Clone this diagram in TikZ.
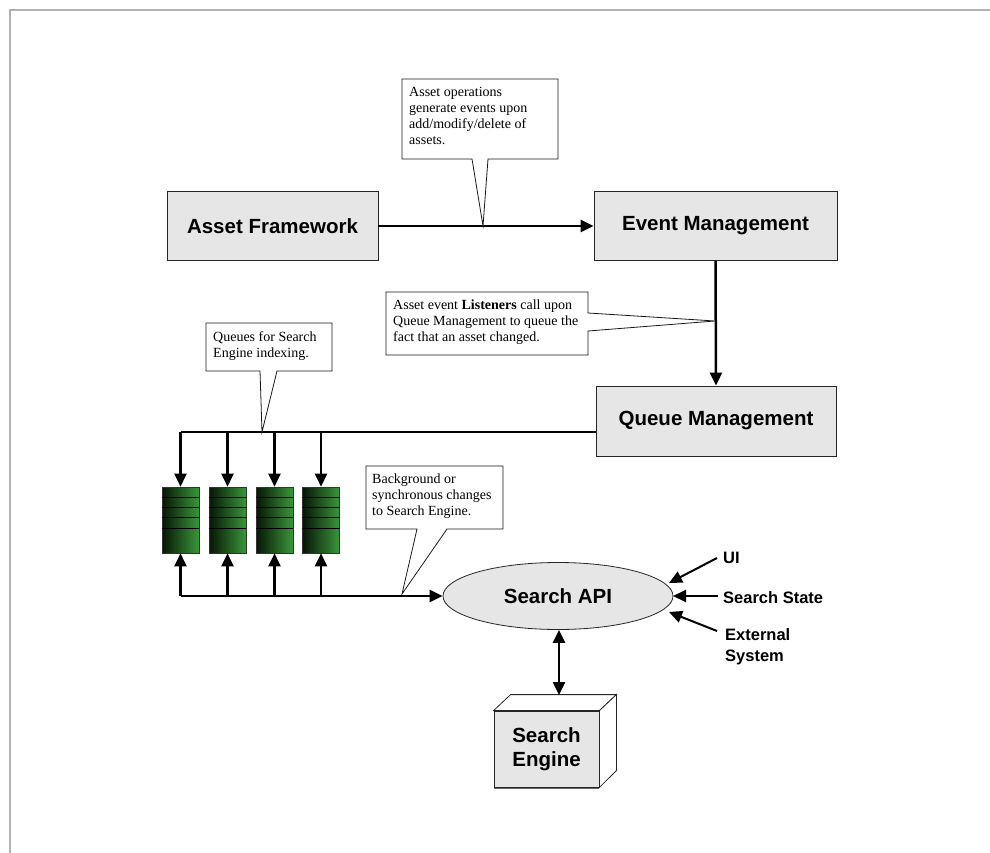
\documentclass[tikz,border=0pt]{standalone}
\usepackage{fontspec}
\setmainfont{Liberation Serif}
\newfontfamily\arialf{Liberation Sans}
\usetikzlibrary{arrows.meta,shapes.geometric}
\definecolor{boxgray}{RGB}{230,230,230}
\definecolor{framegray}{RGB}{178,178,178}
\definecolor{qdark}{RGB}{6,22,6}
\definecolor{qlight}{RGB}{58,150,58}
\tikzset{
  procbox/.style={draw=black!85, line width=0.9pt, fill=boxgray, inner sep=0pt,
    font=\arialf\bfseries\fontsize{20.5}{24}\selectfont, align=center},
  arr/.style={line width=2.5pt, -{Triangle[length=13pt,width=12pt]}},
  dblarr/.style={line width=2.5pt, {Triangle[length=13pt,width=12pt]}-{Triangle[length=13pt,width=12pt]}},
  bus/.style={line width=2.5pt},
  ctext/.style={anchor=north west, inner sep=0pt, align=left,
    font=\fontsize{14}{16}\selectfont},
  callout/.style={draw=black!90, line width=0.8pt, fill=white},
  queue/.style={draw=black!80, line width=0.6pt, minimum width=37pt, minimum height=66pt,
    inner sep=0pt, left color=qdark, right color=qlight},
  sidelabel/.style={font=\arialf\bfseries\fontsize{16.5}{21}\selectfont, align=left, inner sep=0pt, anchor=west}
}
\begin{document}
\begin{tikzpicture}[x=1pt,y=-1pt]
\useasboundingbox (0,0) rectangle (990,853);
% frame
\draw[framegray, line width=1.5pt] (10,853) -- (10,10) -- (990,10);

% main boxes
\node[procbox, minimum width=211pt, minimum height=69pt] (af) at (272.5,226) {Asset Framework};
\node[procbox, minimum width=243pt, minimum height=69pt] (em) at (715.5,226) {Event Management};
\node[procbox, minimum width=240pt, minimum height=70pt] (qm) at (716,421) {Queue Management};

\draw[arr] (af.east) -- (em.west);
\draw[arr] (em.south) -- (qm.north);

% queues
\foreach \n/\x in {1/180.5,2/227.5,3/274.5,4/321}{
  \node[queue] (q\n) at (\x,520) {};
  \foreach \dy in {11,21,31,42}{
    \draw[black, line width=0.9pt] ([yshift=-\dy pt]q\n.north west) -- ([yshift=-\dy pt]q\n.north east);
  }
}

% bus from queue management to queues
\coordinate (qmin) at (596,432);
\coordinate (topL) at (180.5,432);
\draw[bus] (qmin) -- (topL);
\foreach \n in {1,2,3,4}{
  \draw[arr] (q\n.north |- qmin) -- (q\n.north);
}

% Search API
\node[ellipse, draw=black!85, line width=0.8pt, fill=boxgray, minimum width=230pt, minimum height=67pt,
  inner sep=0pt, font=\arialf\bfseries\fontsize{20.5}{24}\selectfont] (api) at (558,596) {Search API};

% bottom bus
\coordinate (botL) at (180.5,596);
\draw[arr] (botL) -- (api.west);
\foreach \n in {1,2,3,4}{
  \draw[arr] (q\n.south |- botL) -- (q\n.south);
}

% side inputs
\node[sidelabel] (ui) at (723,558) {UI};
\node[sidelabel] (ss) at (723,598) {Search State};
\node[sidelabel] (ext) at (725,647) {External\\System};
\coordinate (uitip) at (669,583);
\coordinate (sstip) at (673,596);
\coordinate (exttip) at (669,612);
\draw[arr, line width=2pt] ([xshift=-6pt]ui.west) -- (uitip);
\draw[arr, line width=2pt] ([xshift=-5pt,yshift=2pt]ss.west) -- (sstip);
\draw[arr, line width=2pt] ([xshift=-8pt,yshift=16pt]ext.west) -- (exttip);

% Search Engine cuboid
\node[draw=black!85, line width=0.8pt, fill=boxgray, minimum width=105pt, minimum height=76pt, inner sep=0pt,
  font=\arialf\bfseries\fontsize{20.5}{23.5}\selectfont, align=center] (se) at (546.5,749) {Search\\Engine};
\draw[black!85, line width=0.8pt, fill=white] (se.north west) -- ++(17,-16) -- ++(105,0) -- ([xshift=17pt,yshift=16pt]se.north east) -- (se.north east) -- cycle;
\draw[black!85, line width=0.8pt, fill=white] (se.north east) -- ++(17,-16) -- ++(0,76) -- (se.south east) -- cycle;
\draw[black!60, line width=1.6pt] ([yshift=-1pt]se.south west) -- ([yshift=-1pt]se.south east);
\coordinate (setop) at (559,695);
\draw[dblarr] (api.south -| setop) -- (setop);

% callout 1
\coordinate (c1tip) at (483,226);
\draw[callout] (402,79) -- (558,79) -- (558,159) -- (488,159) -- (c1tip) -- (472,159) -- (402,159) -- cycle;
\node[ctext] (c1) at (409,87) {Asset operations\\generate events upon\\add/modify/delete of\\assets.};

% callout 2
\coordinate (c2tip) at (715,321);
\draw[callout] (386,292) -- (588,292) -- (588,313) -- (c2tip) -- (588,331) -- (588,355) -- (386,355) -- cycle;
\node[ctext] (c2) at (393,300) {Asset event \textbf{Listeners} call upon\\Queue Management to queue the\\fact that an asset changed.};

% callout 3
\coordinate (c3tip) at (262,432);
\draw[callout] (206,323) -- (332,323) -- (332,371) -- (277,371) -- (c3tip) -- (260,371) -- (206,371) -- cycle;
\node[ctext] (c3) at (213,331) {Queues for Search\\Engine indexing.};

% callout 4
\coordinate (c4tip) at (402,594);
\draw[callout] (366,466) -- (503,466) -- (503,529) -- (447,529) -- (c4tip) -- (417,529) -- (366,529) -- cycle;
\node[ctext] (c4) at (372,474) {Background or\\synchronous changes\\to Search Engine.};
\end{tikzpicture}
\end{document}
